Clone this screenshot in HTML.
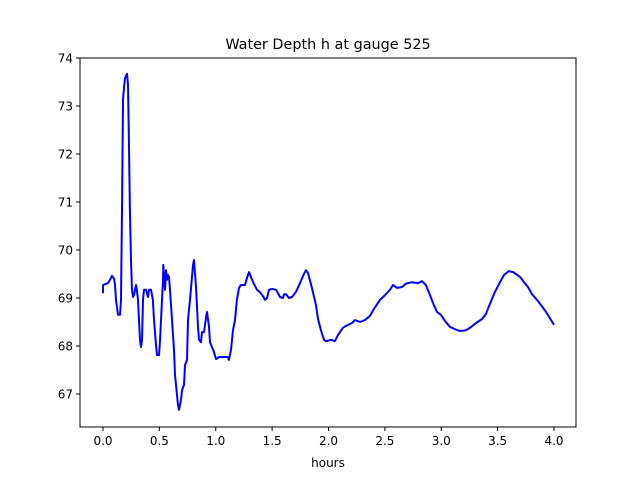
<!DOCTYPE html>
<html><head><meta charset="utf-8"><style>
body{margin:0;background:#fff;font-family:"Liberation Sans","DejaVu Sans",sans-serif}
svg text{font-family:"DejaVu Sans","Liberation Sans",sans-serif;font-size:12px;fill:#000}
</style></head><body>
<svg id="chart" width="640" height="480" xmlns="http://www.w3.org/2000/svg">
<rect width="640" height="480" fill="#fff"/>
<text x="328" y="49" text-anchor="middle" style="font-size:14.4px">Water Depth h at gauge 525</text>
<g id="ticks"></g>
<path id="line" fill="none" stroke="#0000ff" stroke-width="2" stroke-linejoin="round"/>
<rect x="80" y="58" width="496" height="369" fill="none" stroke="#000" stroke-width="1"/>
<text x="328" y="467" text-anchor="middle">hours</text>
</svg>
<script>
const hours=[0,0,0.044,0.062,0.080,0.098,0.106,0.115,0.133,0.151,0.160,0.169,0.177,0.186,0.195,0.213,0.222,0.230,0.239,0.248,0.257,0.266,0.275,0.293,0.301,0.310,0.319,0.328,0.337,0.346,0.355,0.364,0.381,0.399,0.408,0.426,0.443,0.452,0.470,0.479,0.497,0.506,0.514,0.523,0.532,0.535,0.541,0.550,0.559,0.568,0.576,0.585,0.594,0.612,0.630,0.639,0.656,0.665,0.674,0.692,0.701,0.718,0.727,0.745,0.754,0.772,0.798,0.807,0.825,0.843,0.851,0.869,0.878,0.896,0.914,0.922,0.940,0.949,0.984,1.002,1.020,1.029,1.108,1.117,1.135,1.153,1.171,1.188,1.206,1.224,1.259,1.277,1.295,1.322,1.339,1.366,1.392,1.419,1.437,1.455,1.472,1.499,1.534,1.552,1.570,1.596,1.605,1.623,1.650,1.676,1.712,1.747,1.782,1.800,1.818,1.853,1.889,1.906,1.933,1.960,1.977,2.022,2.057,2.084,2.128,2.173,2.208,2.235,2.279,2.323,2.368,2.403,2.457,2.501,2.545,2.572,2.608,2.652,2.687,2.740,2.794,2.829,2.864,2.900,2.935,2.962,2.997,3.033,3.077,3.121,3.166,3.219,3.255,3.308,3.361,3.397,3.432,3.477,3.521,3.556,3.600,3.636,3.662,3.698,3.734,3.769,3.805,3.849,3.893,3.929,3.964,4.000];
const depth=[69.10,69.27,69.31,69.38,69.46,69.40,69.27,68.96,68.65,68.65,68.96,71.04,73.13,73.38,73.58,73.67,73.44,72.29,70.83,69.79,69.17,69.02,69.06,69.27,69.17,68.96,68.54,68.13,67.98,68.13,68.96,69.17,69.17,69.02,69.17,69.17,68.96,68.54,68.02,67.81,67.81,68.13,68.54,68.96,69.38,69.69,69.48,69.17,69.58,69.38,69.48,69.44,69.17,68.54,67.92,67.40,66.98,66.77,66.67,66.88,67.08,67.19,67.60,67.71,68.54,68.96,69.69,69.79,69.23,68.40,68.13,68.08,68.29,68.29,68.60,68.71,68.40,68.08,67.88,67.73,67.75,67.77,67.77,67.71,67.92,68.33,68.54,68.96,69.21,69.27,69.27,69.42,69.54,69.38,69.29,69.17,69.12,69.04,68.96,69.00,69.17,69.19,69.17,69.10,69.02,69.00,69.08,69.08,69.00,69.02,69.13,69.31,69.50,69.58,69.52,69.21,68.85,68.58,68.33,68.13,68.10,68.13,68.10,68.23,68.38,68.44,68.48,68.54,68.50,68.54,68.63,68.77,68.96,69.06,69.17,69.27,69.21,69.23,69.30,69.33,69.31,69.35,69.27,69.06,68.85,68.71,68.65,68.52,68.40,68.35,68.31,68.33,68.38,68.48,68.56,68.67,68.88,69.13,69.33,69.48,69.56,69.54,69.50,69.44,69.33,69.23,69.08,68.96,68.83,68.71,68.58,68.44];
const xTicks=[0,0.5,1,1.5,2,2.5,3,3.5,4];
const xTickLabels=["0.0","0.5","1.0","1.5","2.0","2.5","3.0","3.5","4.0"];
const yTicks=[67,68,69,70,71,72,73,74];
const yTickLabels=["67","68","69","70","71","72","73","74"];
const X0=80,X1=576,Y0=427,Y1=58,xmin=-0.2040,xmax=4.1951,ymin=66.3125,ymax=74;
function sx(v){return X0+(v-xmin)/(xmax-xmin)*(X1-X0);}
function sy(v){return Y0-(v-ymin)/(ymax-ymin)*(Y0-Y1);}
const NS="http://www.w3.org/2000/svg";
const g=document.getElementById('ticks');
xTicks.forEach((t,i)=>{
 const l=document.createElementNS(NS,'line');
 
 
 l.setAttribute('x1',sx(t));l.setAttribute('x2',sx(t));l.setAttribute('y1',Y0);l.setAttribute('y2',Y0+4);l.setAttribute('stroke','#000');
 g.appendChild(l);
 const tx=document.createElementNS(NS,'text');
 
 
 tx.setAttribute('x',sx(t));tx.setAttribute('y',Y0+18);tx.setAttribute('text-anchor','middle');
 tx.textContent=xTickLabels[i];g.appendChild(tx);
});
yTicks.forEach((t,i)=>{
 const l=document.createElementNS(NS,'line');
 
 
 l.setAttribute('x1',X0-4);l.setAttribute('x2',X0);l.setAttribute('y1',sy(t));l.setAttribute('y2',sy(t));l.setAttribute('stroke','#000');
 g.appendChild(l);
 const tx=document.createElementNS(NS,'text');
 
 
 tx.setAttribute('x',X0-7);tx.setAttribute('y',sy(t)+4.5);tx.setAttribute('text-anchor','end');
 tx.textContent=yTickLabels[i];g.appendChild(tx);
});
document.getElementById('line').setAttribute('d',hours.map((h,i)=>(i?'L':'M')+sx(h).toFixed(1)+','+sy(depth[i]).toFixed(1)).join(''));
</script>
</body></html>
